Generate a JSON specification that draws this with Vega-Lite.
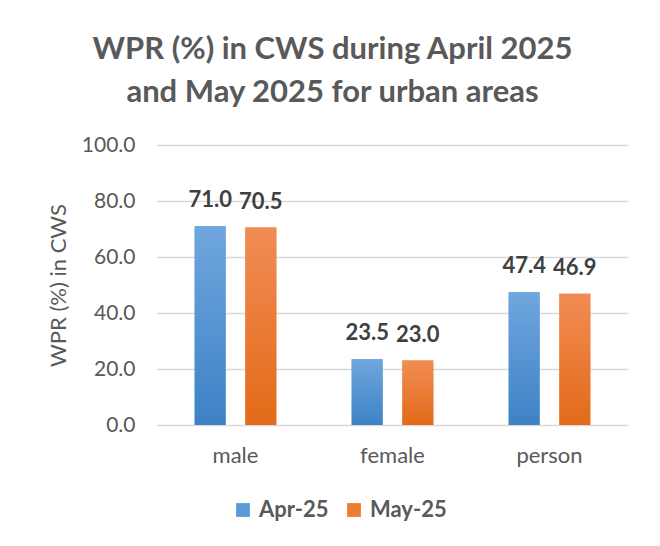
{
  "$schema": "https://vega.github.io/schema/vega-lite/v6.json",
  "width": 471,
  "height": 280,
  "autosize": {"type": "none"},
  "padding": {"left": 157, "top": 145, "right": 32, "bottom": 121},
  "background": "white",
  "config": {
    "font": "Lato",
    "view": {"stroke": null},
    "axis": {"labelFont": "Lato", "titleFont": "Lato", "labelColor": "#595959", "titleColor": "#595959", "labelFontSize": 21, "titleFontSize": 22, "titleFontWeight": "normal", "domain": false, "ticks": false}
  },
  "title": {
    "text": ["WPR (%) in CWS during April 2025", "and May 2025 for urban areas"],
    "font": "Lato",
    "fontSize": 31,
    "fontWeight": "bold",
    "color": "#595959",
    "anchor": "middle",
    "dx": -60,
    "offset": 25,
    "lineHeight": 43
  },
  "data": {
    "values": [
      {"cat": "male", "series": "Apr-25", "value": 71.0},
      {"cat": "male", "series": "May-25", "value": 70.5},
      {"cat": "female", "series": "Apr-25", "value": 23.5},
      {"cat": "female", "series": "May-25", "value": 23.0},
      {"cat": "person", "series": "Apr-25", "value": 47.4},
      {"cat": "person", "series": "May-25", "value": 46.9}
    ]
  },
  "encoding": {
    "x": {
      "field": "cat", "type": "nominal", "sort": ["male", "female", "person"],
      "scale": {"paddingInner": 0.48, "paddingOuter": 0.24},
      "axis": {"title": null, "labelAngle": 0, "labelPadding": 20, "labelFontSize": 22, "grid": false}
    },
    "xOffset": {
      "field": "series", "type": "nominal",
      "scale": {"domain": ["Apr-25", "May-25"], "paddingInner": 0.39, "paddingOuter": 0}
    },
    "y": {
      "field": "value", "type": "quantitative",
      "scale": {"domain": [0, 100]},
      "axis": {"title": "WPR (%) in CWS", "values": [0, 20, 40, 60, 80, 100], "format": ".1f", "gridColor": "#d9d9d9", "gridWidth": 1.5, "labelPadding": 22, "titlePadding": 11}
    }
  },
  "layer": [
    {
      "mark": {"type": "bar"},
      "encoding": {
        "color": {
          "field": "series", "type": "nominal",
          "scale": {"domain": ["Apr-25", "May-25"], "range": ["#5b9bd5", "#ed7d31"]},
          "legend": {"title": null, "orient": "none", "direction": "horizontal", "legendX": 75, "legendY": 354, "symbolType": "square", "symbolSize": 190, "symbolStrokeWidth": 0, "labelFontSize": 22, "labelFontWeight": "bold", "labelColor": "#595959", "labelFont": "Lato", "columnPadding": 14, "labelOffset": 5}
        }
      }
    },
    {
      "transform": [{"filter": "datum.series === 'Apr-25'"}],
      "mark": {"type": "bar", "color": {"gradient": "linear", "x1": 0, "y1": 0, "x2": 0, "y2": 1, "stops": [{"offset": 0, "color": "#70a6de"}, {"offset": 1, "color": "#3d82c6"}]}}
    },
    {
      "transform": [{"filter": "datum.series === 'May-25'"}],
      "mark": {"type": "bar", "color": {"gradient": "linear", "x1": 0, "y1": 0, "x2": 0, "y2": 1, "stops": [{"offset": 0, "color": "#f18c55"}, {"offset": 1, "color": "#e36a18"}]}}
    },
    {
      "mark": {"type": "text", "baseline": "alphabetic", "dy": -19, "fontSize": 22, "fontWeight": "bold", "color": "#404040", "font": "Lato"},
      "encoding": {"text": {"field": "value", "type": "quantitative", "format": ".1f"}}
    }
  ]
}
